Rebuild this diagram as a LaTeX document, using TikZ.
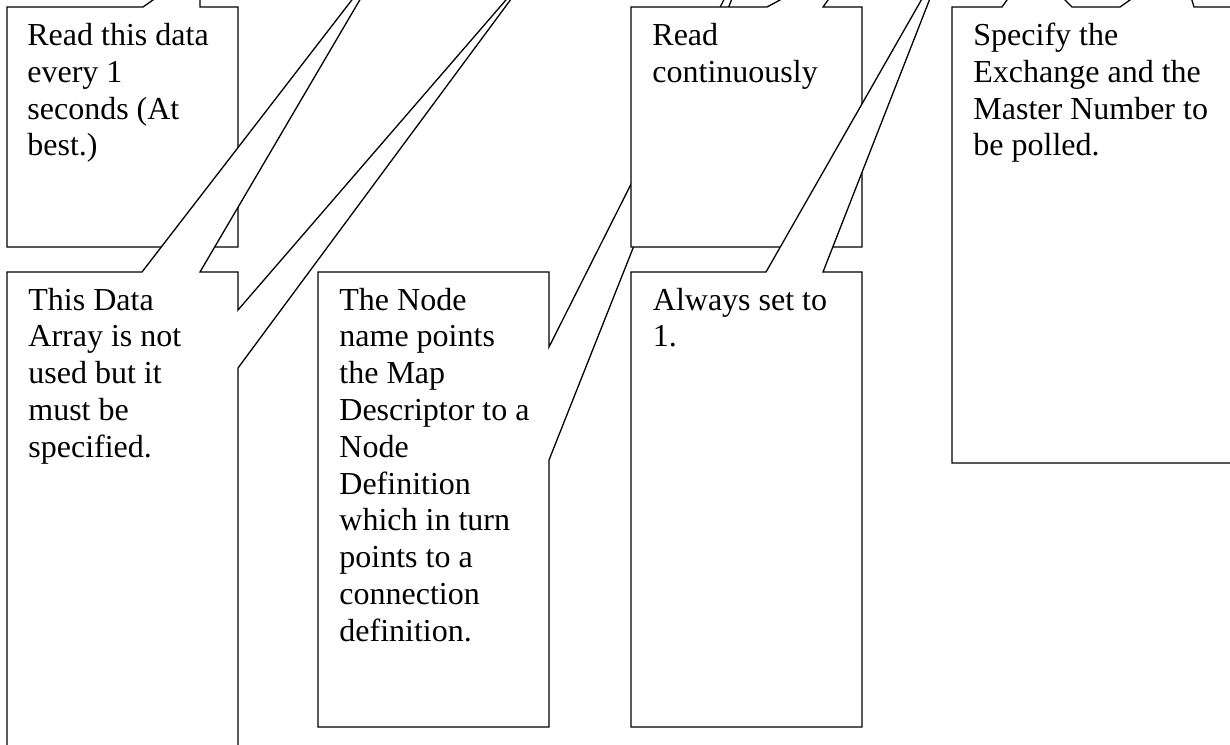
\documentclass[tikz,border=0pt]{standalone}
\usepackage{fontspec}
\setmainfont{Liberation Serif}

\begin{document}
\begin{tikzpicture}[x=0.5pt,y=-0.5pt]
    % Define callout and text styles
    \tikzset{bubble/.style={draw=black,fill=white,line width=0.65pt,line join=miter},
             note/.style={anchor=base west,inner sep=0pt,font=\fontsize{16}{18.4}\selectfont}}

    \useasboundingbox (0,0) rectangle (1230,744);
    \clip (0,0) rectangle (1230,744); % page edges cut the tails

    \pgfmathsetmacro{\lead}{36.8}   % distance between text lines

    % Read this data
    \draw[bubble] (7,7) -- (143,7) -- (200,-33) -- (200,7) -- (238,7) -- (238,247) -- (7,247) -- cycle;
    \foreach \txt [count=\i] in {Read this data,every 1,seconds (At,best.)}
        \node[note] (read-\i) at (27,{45.5+(\i-1)*\lead}) {\txt};

    % This Data Array (two tails)
    \draw[bubble] (7,272) -- (142,272) -- (385,-43) -- (200,272) -- (238,272) -- (238,310)
        -- (537,-36) -- (238,368) -- (238,770) -- (7,770) -- cycle;
    \foreach \txt [count=\i] in {This Data,Array is not,used but it,must be,specified.}
        \node[note] (array-\i) at (28,{310+(\i-1)*\lead}) {\txt};

    % The Node name
    \draw[bubble] (318,272) -- (549,272) -- (549,347) -- (760,-72) -- (549,460) -- (549,727) -- (318,727) -- cycle;
    \foreach \txt [count=\i] in {The Node,name points,the Map,Descriptor to a,Node,Definition,which in turn,points to a,connection,definition.}
        \node[note] (name-\i) at (339,{310+(\i-1)*\lead}) {\txt};

    % Read continuously
    \draw[bubble] (631,7) -- (767,7) -- (858,-42) -- (823,7) -- (862,7) -- (862,247) -- (631,247) -- cycle;
    \foreach \txt [count=\i] in {Read,continuously}
        \node[note] (cont-\i) at (652,{45.5+(\i-1)*\lead}) {\txt};

    % Always set to 1
    \draw[bubble] (631,272) -- (766,272) -- (947,-45) -- (823,272) -- (862,272) -- (862,727) -- (631,727) -- cycle;
    \foreach \txt [count=\i] in {Always set to,1.}
        \node[note] (always-\i) at (652.5,{310+(\i-1)*\lead}) {\txt};

    % Exchange and Master Number
    \draw[bubble] (952,7) -- (1002,7) -- (1031,-34) -- (1072,7) -- (1120,7) -- (1181,-36) -- (1194,7)
        -- (1250,7) -- (1250,463) -- (952,463) -- cycle;
    \foreach \txt [count=\i] in {Specify the,Exchange and the,Master Number to,be polled.}
        \node[note] (spec-\i) at (973,{45.5+(\i-1)*\lead}) {\txt};
\end{tikzpicture}
\end{document}
